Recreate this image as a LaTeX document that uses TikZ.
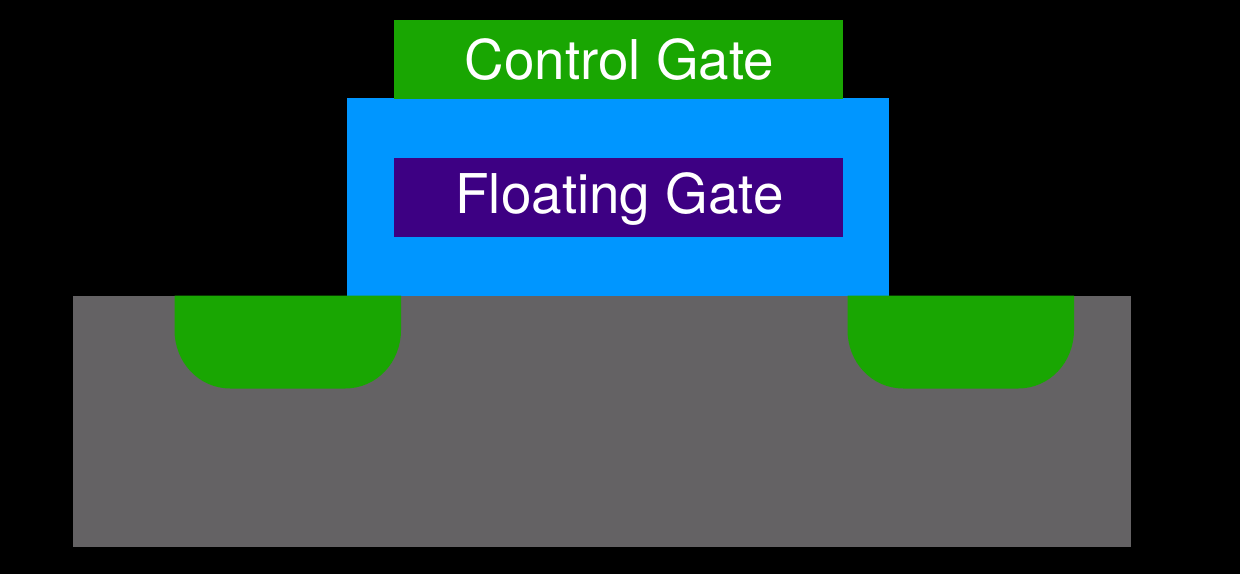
\documentclass[tikz,border=0pt]{standalone}
\usepackage{fontspec}
\setmainfont{TeX Gyre Heros}
\definecolor{cgreen}{HTML}{19A602}
\definecolor{cblue}{HTML}{0096FF}
\definecolor{cpurple}{HTML}{3D0083}
\definecolor{cgray}{HTML}{646264}
\tikzset{
  px/.style={x=1pt,y=-1pt},
  labeltext/.style={text=white,font=\fontsize{54.8}{60}\selectfont,inner sep=0pt,anchor=base},
}
\begin{document}
\begin{tikzpicture}[px]
\useasboundingbox (0,0) rectangle (1240,574);
\fill[black] (0,0) rectangle (1240,574);
\fill[cgray] (73,295.5) rectangle (1131,547);
\fill[cblue] (347,98) rectangle (889,295.5);
\fill[cgreen] (394,20) rectangle (843,98.5);
\fill[cpurple] (394,158) rectangle (843,237);
\fill[cgreen] (174.5,295.5) -- (401,295.5) -- (401,330) .. controls (401,362) and (377,388.5) .. (345,388.5) -- (230.5,388.5) .. controls (198.5,388.5) and (174.5,362) .. (174.5,330) -- cycle;
\fill[cgreen] (847.5,295.5) -- (1074,295.5) -- (1074,330) .. controls (1074,362) and (1050,388.5) .. (1018,388.5) -- (903.5,388.5) .. controls (871.5,388.5) and (847.5,362) .. (847.5,330) -- cycle;
\node[labeltext] (cg) at (619.5,79) {Control Gate};
\node[labeltext] (fg) at (619.5,213) {Floating Gate};
\end{tikzpicture}
\end{document}
